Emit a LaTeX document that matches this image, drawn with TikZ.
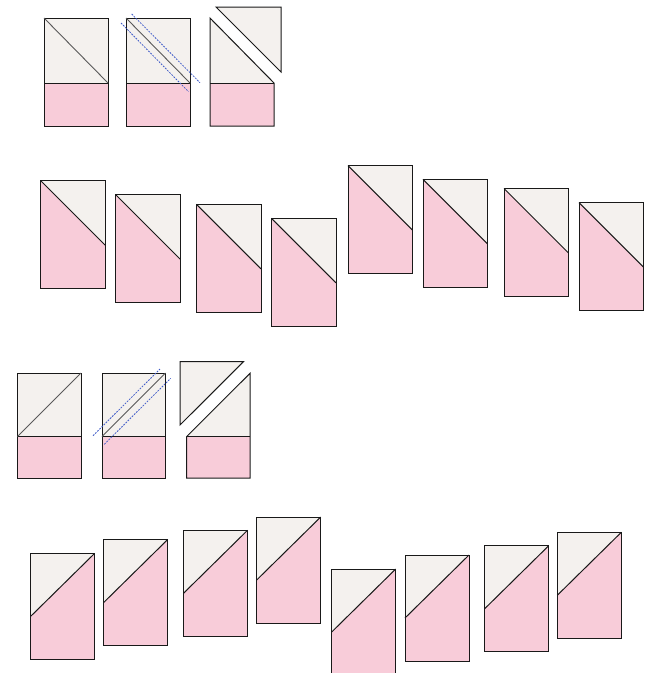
\documentclass[tikz,border=0pt]{standalone}
\begin{document}
\begin{tikzpicture}[x=1pt,y=-1pt,
  whitef/.style={fill=fabric},
  pinkf/.style={fill=pinkfab},
  edge/.style={draw=black!90,line width=1pt,line join=miter},
  seam/.style={draw=black!65,line width=0.9pt},
  cutline/.style={draw=cutblue,line width=0.8pt,dash pattern=on 1.8pt off 1.2pt},
  pics/dn/.style={code={
    \fill[pinkf] (0,0) rectangle (64.5,108);
    \fill[whitef] (0,0) -- (64.5,0) -- (64.5,64.5) -- cycle;
    \draw[edge] (0,0) rectangle (64.5,108);
    \draw[edge] (0,0) -- (64.5,64.5);
  }},
  pics/up/.style={code={
    \fill[pinkf] (0,0) rectangle (64,106);
    \fill[whitef] (0,0) -- (64,0) -- (0,63) -- cycle;
    \draw[edge] (0,0) rectangle (64,106);
    \draw[edge] (0,63) -- (64,0);
  }}
]
\definecolor{fabric}{HTML}{F4F1EE}
\definecolor{pinkfab}{HTML}{F8CCD9}
\definecolor{cutblue}{HTML}{3F5BC8}
\useasboundingbox (0,0) rectangle (649,673);

% ---------- Row 1 ----------
% block A
\fill[whitef] (44,18) rectangle (108,83);
\fill[pinkf] (44,83) rectangle (108,126);
\draw[edge] (44,18) rectangle (108,126);
\draw[edge] (44,83) -- (108,83);
\draw[seam] (44,18) -- (108,83);
% block B
\fill[whitef] (126,18) rectangle (190,83);
\fill[pinkf] (126,83) rectangle (190,126);
\draw[edge] (126,18) rectangle (190,126);
\draw[edge] (126,83) -- (190,83);
\draw[seam] (126,18) -- (190,83);
\draw[cutline] (121,23) -- (188.5,91.7);
\draw[cutline] (131.7,14) -- (200,82.7);
% block C
\fill[whitef] (210,18) -- (274,83) -- (210,83) -- cycle;
\fill[pinkf] (210,83) rectangle (274,126);
\draw[edge] (210,18) -- (274,83) -- (274,126) -- (210,126) -- cycle;
\draw[edge] (210,83) -- (274,83);
\fill[whitef] (216,7) -- (281,7) -- (281,72) -- cycle;
\draw[edge] (216,7) -- (281,7) -- (281,72) -- cycle;

% ---------- Row 2 ----------
\pic at (40.7,180.7) {dn};
\pic at (115.7,194.7) {dn};
\pic at (196.5,204.3) {dn};
\pic at (271.5,218.3) {dn};
\pic at (348,165.7) {dn};
\pic at (423,179.3) {dn};
\pic at (504,188.5) {dn};
\pic at (579,202.7) {dn};

% ---------- Row 3 ----------
% block A
\fill[whitef] (17.5,373) rectangle (81,436.5);
\fill[pinkf] (17.5,436.5) rectangle (81,478);
\draw[edge] (17.5,373) rectangle (81,478);
\draw[edge] (17.5,436.5) -- (81,436.5);
\draw[seam] (17.5,436.5) -- (81,373);
% block B
\fill[whitef] (102,373) rectangle (165.5,436.5);
\fill[pinkf] (102,436.5) rectangle (165.5,478);
\draw[edge] (102,373) rectangle (165.5,478);
\draw[edge] (102,436.5) -- (165.5,436.5);
\draw[seam] (102,436.5) -- (165.5,373);
\draw[cutline] (93,435.7) -- (160,369);
\draw[cutline] (104.3,444.3) -- (170.7,378.3);
% block C
\fill[whitef] (186.7,436.5) -- (250,373.3) -- (250,436.5) -- cycle;
\fill[pinkf] (186.7,436.5) rectangle (250,478);
\draw[edge] (186.7,436.5) -- (250,373.3) -- (250,478) -- (186.7,478) -- cycle;
\draw[edge] (186.7,436.5) -- (250,436.5);
\fill[whitef] (180,361.7) -- (243.5,361.7) -- (180,425) -- cycle;
\draw[edge] (180,361.7) -- (243.5,361.7) -- (180,425) -- cycle;

% ---------- Row 4 ----------
\pic at (30.5,553.5) {up};
\pic at (103.7,539.5) {up};
\pic at (183.5,530.3) {up};
\pic at (256.7,517) {up};
\pic at (331.7,569) {up};
\pic at (405,555) {up};
\pic at (484.7,545.7) {up};
\pic at (557.3,532.3) {up};
\end{tikzpicture}
\end{document}
